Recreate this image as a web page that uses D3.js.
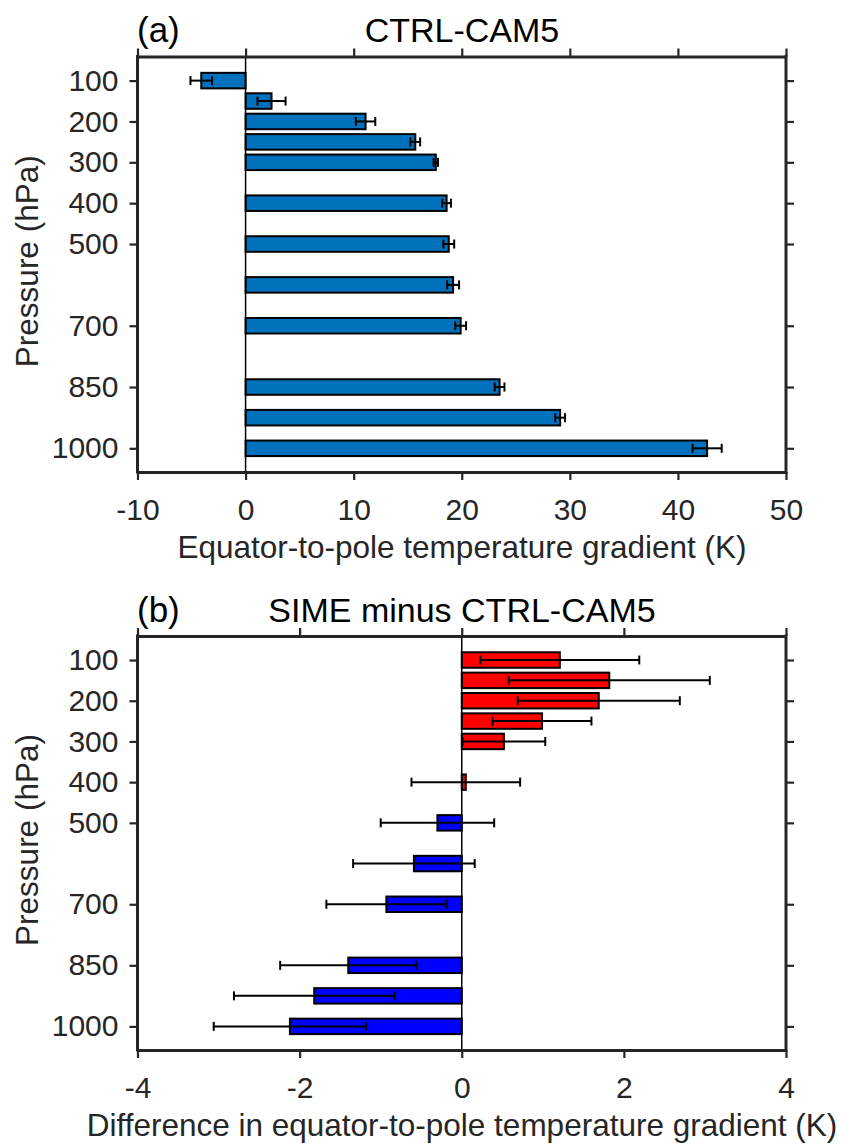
<!DOCTYPE html>
<html>
<head>
<meta charset="utf-8">
<script src="https://cdn.jsdelivr.net/npm/d3@7"></script>
<style>
  body { margin: 0; background: #fff; }
  text { font-family: "Liberation Sans", Arial, sans-serif; fill: #262626; }
</style>
</head>
<body>
<div id="chart"></div>
<script>
var svgWidth = 842;
var svgHeight = 1146;

// pressure levels (hPa)
var levels = [100, 150, 200, 250, 300, 400, 500, 600, 700, 850, 925, 1000];
var yTicks = [100, 200, 300, 400, 500, 700, 850, 1000];

// (a) CTRL-CAM5 gradient and its error
var ctrlValues = [-4.1, 2.4, 11.1, 15.7, 17.6, 18.6, 18.8, 19.2, 19.9, 23.5, 29.1, 42.7];
var ctrlErrors = [1.0, 1.3, 0.9, 0.45, 0.2, 0.4, 0.5, 0.55, 0.5, 0.45, 0.45, 1.35];
var xTicksA = [-10, 0, 10, 20, 30, 40, 50];

// (b) SIME minus CTRL-CAM5 and its error
var diffValues = [1.21, 1.82, 1.69, 0.99, 0.52, 0.05, -0.30, -0.59, -0.93, -1.40, -1.82, -2.12];
var diffErrors = [0.98, 1.24, 1.0, 0.61, 0.51, 0.67, 0.70, 0.75, 0.74, 0.84, 0.99, 0.94];
var xTicksB = [-4, -2, 0, 2, 4];

var axisColor = "#262626";

var svg = d3.select("#chart")
  .append("svg")
  .attr("width", svgWidth)
  .attr("height", svgHeight)
  .style("background", "#fff");

function drawPanel(cfg) {
  var g = svg.append("g");

  var xScale = d3.scaleLinear().domain(cfg.xDomain).range([137.5, 786]);
  var yScale = d3.scaleLinear().domain([41, 1058]).range([cfg.top, cfg.bottom]);

  var data = levels.map(function(p, i) {
    return { p: p, v: cfg.values[i], e: cfg.errors[i] };
  });

  // bars
  g.selectAll(".bar")
    .data(data)
    .enter()
    .append("rect")
    .attr("x", d => Math.min(xScale(0), xScale(d.v)))
    .attr("width", d => Math.abs(xScale(d.v) - xScale(0)))
    .attr("y", d => yScale(d.p - 19))
    .attr("height", d => yScale(d.p + 19) - yScale(d.p - 19))
    .attr("fill", cfg.color)
    .attr("stroke", "#000")
    .attr("stroke-width", 2);

  // error bars
  var capH = 4.5;
  var eb = g.selectAll(".err")
    .data(data)
    .enter()
    .append("g")
    .attr("stroke", "#000")
    .attr("stroke-width", 2);
  eb.append("line")
    .attr("x1", d => xScale(d.v - d.e))
    .attr("x2", d => xScale(d.v + d.e))
    .attr("y1", d => yScale(d.p))
    .attr("y2", d => yScale(d.p));
  eb.append("line")
    .attr("x1", d => xScale(d.v - d.e))
    .attr("x2", d => xScale(d.v - d.e))
    .attr("y1", d => yScale(d.p) - capH)
    .attr("y2", d => yScale(d.p) + capH);
  eb.append("line")
    .attr("x1", d => xScale(d.v + d.e))
    .attr("x2", d => xScale(d.v + d.e))
    .attr("y1", d => yScale(d.p) - capH)
    .attr("y2", d => yScale(d.p) + capH);

  // zero line
  g.append("line")
    .attr("x1", xScale(0)).attr("x2", xScale(0))
    .attr("y1", cfg.top).attr("y2", cfg.bottom)
    .attr("stroke", "#000")
    .attr("stroke-width", 1.5);

  // axes (box with outward ticks)
  var plain = d => String(d);
  var left = d3.axisLeft(yScale).tickValues(yTicks).tickSize(8).tickSizeOuter(0).tickPadding(11).tickFormat(plain);
  var right = d3.axisRight(yScale).tickValues(yTicks).tickSize(8).tickSizeOuter(0).tickFormat("");
  var bottom = d3.axisBottom(xScale).tickValues(cfg.xTicks).tickSize(8).tickSizeOuter(0).tickPadding(19).tickFormat(plain);
  var topAx = d3.axisTop(xScale).tickValues(cfg.xTicks).tickSize(8).tickSizeOuter(0).tickFormat("");

  var axes = [
    g.append("g").attr("transform", "translate(137.5,0)").call(left),
    g.append("g").attr("transform", "translate(786,0)").call(right),
    g.append("g").attr("transform", `translate(0,${cfg.bottom})`).call(bottom),
    g.append("g").attr("transform", `translate(0,${cfg.top})`).call(topAx)
  ];
  axes.forEach(function(a) {
    a.select(".domain").attr("stroke", axisColor).attr("stroke-width", 3);
    a.selectAll(".tick line").attr("stroke", axisColor).attr("stroke-width", 2.2);
    a.selectAll(".tick text")
      .attr("fill", axisColor)
      .style("font-family", "'Liberation Sans', Arial, sans-serif")
      .style("font-size", "30px");
    a.attr("font-size", null).attr("font-family", null);
  });
  // stretch the side domains over the whole box edge
  axes[0].select(".domain").attr("d", `M0,${cfg.top - 1.5}V${cfg.bottom + 1.5}`);
  axes[1].select(".domain").attr("d", `M0,${cfg.top - 1.5}V${cfg.bottom + 1.5}`);

  // titles and labels
  g.append("text")
    .attr("x", 462).attr("y", cfg.top - 14.5)
    .attr("text-anchor", "middle")
    .style("font-size", "34px")
    .style("fill", "#000")
    .text(cfg.title);

  g.append("text")
    .attr("x", 137).attr("y", cfg.top - 14.5)
    .style("font-size", "35px")
    .style("fill", "#000")
    .text(cfg.panel);

  g.append("text")
    .attr("transform", `translate(38, ${(cfg.top + cfg.bottom) / 2 - 3}) rotate(-90)`)
    .attr("text-anchor", "middle")
    .style("font-size", "31.5px")
    .text("Pressure (hPa)");

  g.append("text")
    .attr("x", 462).attr("y", cfg.bottom + 86)
    .attr("text-anchor", "middle")
    .style("font-size", "31.5px")
    .text(cfg.xLabel);
}

drawPanel({
  top: 56.5, bottom: 472,
  xDomain: [-10, 50], xTicks: xTicksA,
  values: ctrlValues, errors: ctrlErrors,
  color: "#0072BD",
  title: "CTRL-CAM5", panel: "(a)",
  xLabel: "Equator-to-pole temperature gradient (K)"
});

drawPanel({
  top: 636, bottom: 1050,
  xDomain: [-4, 4], xTicks: xTicksB,
  values: diffValues, errors: diffErrors,
  color: d => d.v >= 0 ? "#FF0000" : "#0000FF",
  title: "SIME minus CTRL-CAM5", panel: "(b)",
  xLabel: "Difference in equator-to-pole temperature gradient (K)"
});
</script>
</body>
</html>
